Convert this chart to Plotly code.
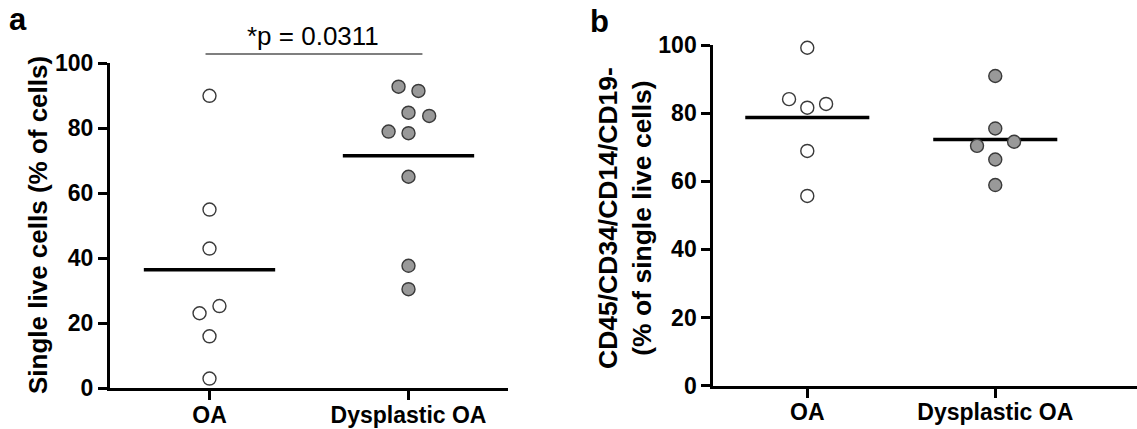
import numpy as np
import plotly.graph_objects as go

# ---------------- data ----------------
categories = ["OA", "Dysplastic OA"]

# panel a: Single live cells (% of cells)
a_oa = [90, 55, 43, 25.3, 23.1, 16, 3]
a_dys = [92.8, 91.5, 84.8, 83.8, 79.0, 78.5, 65.1, 37.7, 30.5]

# panel b: CD45/CD34/CD14/CD19- (% of single live cells)
b_oa = [99.2, 84.1, 81.6, 82.7, 68.9, 55.7]
b_dys = [90.9, 75.5, 70.4, 71.6, 66.4, 58.9]

p_text = "*p = 0.0311"
y_ticks = [0, 20, 40, 60, 80, 100]

# ---------------- layout constants ----------------
W, H = 1137, 429
FONT = "Liberation Sans, Arial, sans-serif"

# horizontal scatter (jitter) of the dots, in category units
jit_a_oa = [0, 0, 0, 0.05, -0.05, 0, 0]
jit_a_dys = [-0.05, 0.05, 0, 0.104, -0.1, 0, 0, 0, 0]
jit_b_oa = [0, -0.097, 0, 0.10, 0, 0]
jit_b_dys = [0, 0, -0.097, 0.10, 0, 0]
HALF = 0.33  # half width of the mean line


def px_x(x):
    return x / W


def px_y(y):
    return 1 - y / H


fig = go.Figure()


def add_group(vals, jit, idx, fill, xa, ya):
    mean = float(np.mean(vals))
    fig.add_trace(go.Scatter(
        x=[idx - HALF, idx + HALF], y=[mean, mean], mode="lines",
        line=dict(color="black", width=3.5), xaxis=xa, yaxis=ya,
        showlegend=False, hoverinfo="skip", cliponaxis=False))
    fig.add_trace(go.Scatter(
        x=[idx + j for j in jit], y=vals, mode="markers",
        marker=dict(size=13, color=fill, line=dict(color="#3a3a3a", width=1.4)),
        xaxis=xa, yaxis=ya, showlegend=False, cliponaxis=False))


add_group(a_oa, jit_a_oa, 0, "white", "x", "y")
add_group(a_dys, jit_a_dys, 1, "#999999", "x", "y")
add_group(b_oa, jit_b_oa, 0, "white", "x2", "y2")
add_group(b_dys, jit_b_dys, 1, "#999999", "x2", "y2")

tickfont_y = dict(family=FONT, size=23, color="black", weight="bold")
tickfont_x = dict(family=FONT, size=23, color="black", weight="bold")

axis_common = dict(showline=True, linecolor="black", linewidth=3, ticks="outside",
                   ticklen=9, tickwidth=3, tickcolor="black", showgrid=False,
                   zeroline=False, fixedrange=True, automargin=False)

fig.update_layout(
    template="none",
    width=W, height=H, margin=dict(l=0, r=0, t=0, b=0, pad=0, autoexpand=False),
    paper_bgcolor="white", plot_bgcolor="white", showlegend=False,
    font=dict(family=FONT, color="black"),
    xaxis=dict(domain=[px_x(110), px_x(508)], range=[-0.5, 1.5], anchor="y",
               tickvals=[0, 1], ticktext=categories, tickfont=tickfont_x,
               ticklabelstandoff=-5, **axis_common),
    yaxis=dict(domain=[px_y(388.3), px_y(63.3)], range=[0, 100], anchor="x",
               tickvals=y_ticks, tickfont=tickfont_y, **axis_common),
    xaxis2=dict(domain=[px_x(713.3), 1.0], range=[-0.5, 1.754], anchor="y2",
                tickvals=[0, 1], ticktext=categories, tickfont=tickfont_x,
                ticklabelstandoff=-5, **axis_common),
    yaxis2=dict(domain=[px_y(385.7), px_y(45)], range=[0, 100], anchor="x2",
                tickvals=y_ticks, tickfont=tickfont_y, **axis_common),
)

# significance bracket
fig.add_shape(type="line", xref="x", yref="paper", x0=-0.02, x1=1.07,
              y0=px_y(54), y1=px_y(54), line=dict(color="black", width=1.2))

ann = []
ann.append(dict(text=p_text, x=px_x(313), y=px_y(36), xref="paper", yref="paper",
                showarrow=False, xanchor="center", yanchor="middle",
                font=dict(family=FONT, size=26, color="black")))
ann.append(dict(text="Single live cells (% of cells)", x=px_x(38), y=px_y(225),
                xref="paper", yref="paper", showarrow=False, textangle=-90,
                xanchor="center", yanchor="middle",
                font=dict(family=FONT, size=26, color="black", weight="bold")))
ann.append(dict(text="CD45/CD34/CD14/CD19-<br>(% of single live cells)", x=px_x(625),
                y=px_y(218), xref="paper", yref="paper", showarrow=False, textangle=-90,
                xanchor="center", yanchor="middle",
                font=dict(family=FONT, size=26.5, color="black", weight="bold")))
ann.append(dict(text="a", x=px_x(18), y=px_y(19.5), xref="paper", yref="paper",
                showarrow=False, xanchor="center", yanchor="middle",
                font=dict(family=FONT, size=31, color="black", weight="bold")))
ann.append(dict(text="b", x=px_x(599), y=px_y(21.5), xref="paper", yref="paper",
                showarrow=False, xanchor="center", yanchor="middle",
                font=dict(family=FONT, size=31, color="black", weight="bold")))
fig.update_layout(annotations=ann)

# remove the page's default body margin so the figure sits at the window corner
fig.write_html("out.html", config={"displayModeBar": False},
               post_script="document.body.style.margin='0';")
